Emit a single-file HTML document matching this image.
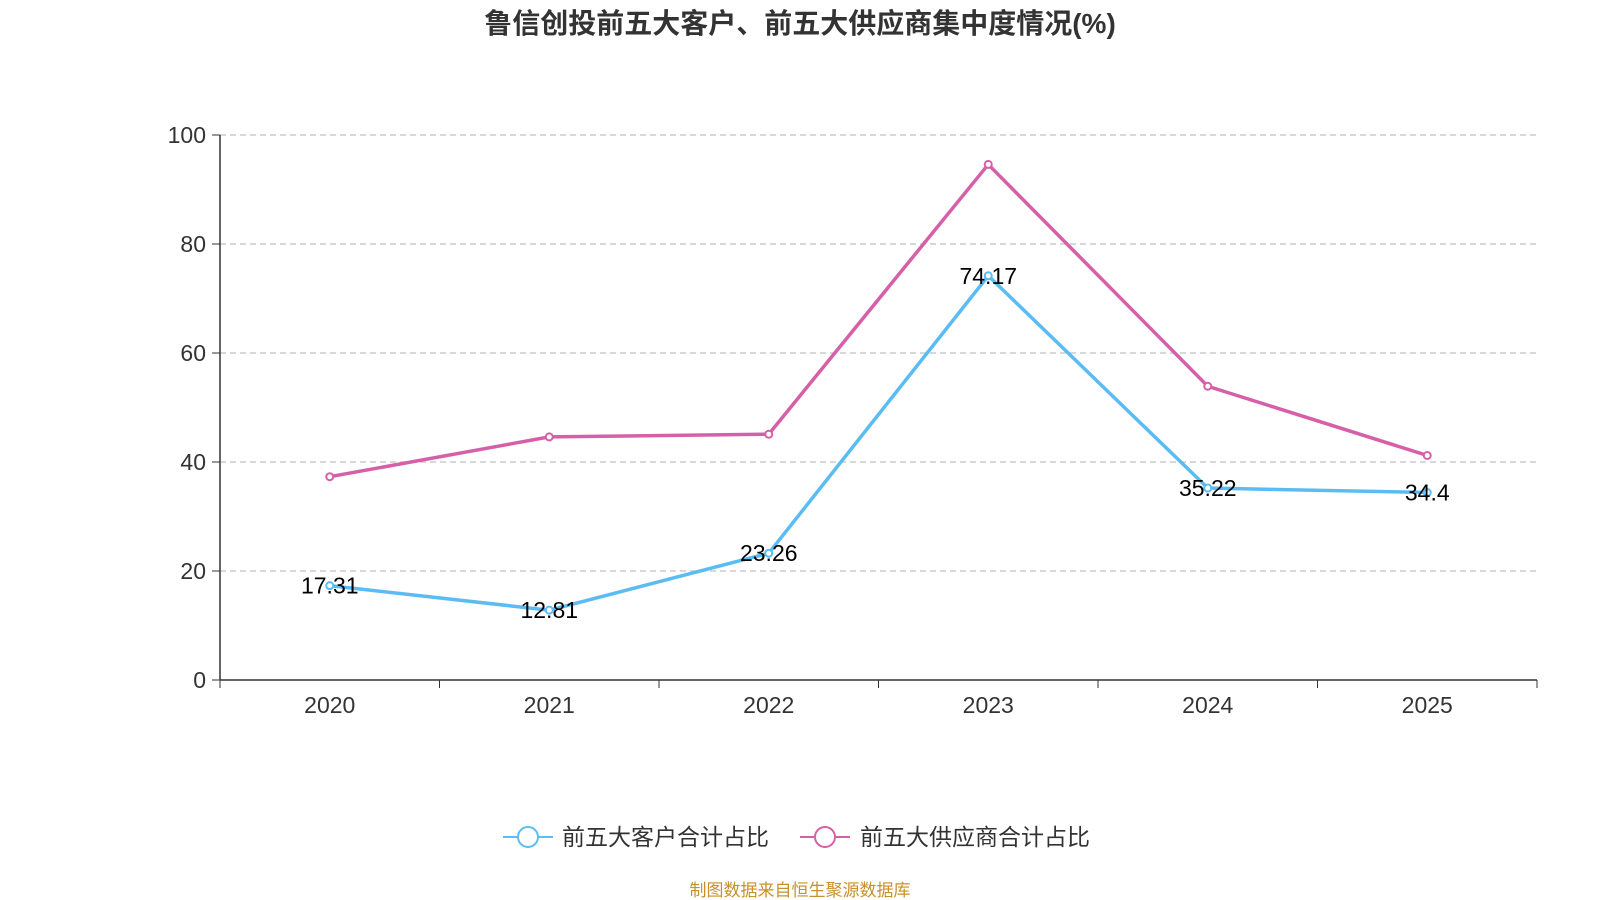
<!DOCTYPE html>
<html><head><meta charset="utf-8">
<style>
html,body{margin:0;padding:0;background:#fff;width:1600px;height:900px;overflow:hidden}
svg{display:block;font-family:"Liberation Sans","Noto Sans CJK SC",sans-serif}
</style></head>
<body>
<svg id="chart" width="1600" height="900">
<text x="800" y="33" text-anchor="middle" font-size="28" font-weight="bold" fill="#333">鲁信创投前五大客户、前五大供应商集中度情况(%)</text>
<g id="grid"></g><g id="axes"></g><g id="series"></g>
<g>
<g>
<line x1="503" y1="837" x2="553" y2="837" stroke="#5bbcf3" stroke-width="2"/>
<circle cx="528" cy="837" r="10" fill="#fff" stroke="#5bbcf3" stroke-width="2"/>
<text x="562" y="845" font-size="23" fill="#333">前五大客户合计占比</text></g>
<g>
<line x1="800" y1="837" x2="850" y2="837" stroke="#d660a8" stroke-width="2"/>
<circle cx="825" cy="837" r="10" fill="#fff" stroke="#d660a8" stroke-width="2"/>
<text x="860" y="845" font-size="23" fill="#333">前五大供应商合计占比</text></g>
</g>
<text x="800" y="896" text-anchor="middle" font-size="17" fill="#c8902a">制图数据来自恒生聚源数据库</text>
</svg>
<script>
const categories=["2020","2021","2022","2023","2024","2025"];
const customers=[17.31,12.81,23.26,74.17,35.22,34.4];
const suppliers=[37.3,44.6,45.1,94.6,53.9,41.2];
const yTicks=[0,20,40,60,80,100];
const NS="http://www.w3.org/2000/svg";
const L=220,R=1537,T=135,B=680;
const bw=(R-L)/categories.length;
const x=i=>L+bw*(i+0.5);
const y=v=>B-(v/100)*(B-T);
function mk(tag,attrs,parent){const e=document.createElementNS(NS,tag);for(const k in attrs)e.setAttribute(k,attrs[k]);parent.appendChild(e);return e;}
const grid=document.getElementById('grid'),axes=document.getElementById('axes'),ser=document.getElementById('series');
yTicks.forEach(t=>{
 if(t>0){const g=mk('line',{x1:L,x2:R,y1:y(t),y2:y(t),stroke:'#ccc','stroke-dasharray':'6,4','stroke-width':1.5},grid);
 
 }
 mk('line',{x1:L-8,x2:L,y1:y(t),y2:y(t),stroke:'#333'},axes);
 const tx=mk('text',{x:L-14,y:y(t)+8,'text-anchor':'end','font-size':23,fill:'#333'},axes);tx.textContent=t;
 
 
});
mk('line',{x1:L,x2:L,y1:T,y2:B,stroke:'#333','stroke-width':1.5},axes);
mk('line',{x1:L,x2:R,y1:B,y2:B,stroke:'#333','stroke-width':1.5},axes);
for(let i=0;i<=categories.length;i++)mk('line',{x1:L+bw*i,x2:L+bw*i,y1:B,y2:B+8,stroke:'#333'},axes);
categories.forEach((c,i)=>{const t=mk('text',{x:x(i),y:B+33,'text-anchor':'middle','font-size':23,fill:'#333'},axes);t.textContent=c;
 
 });
function line(vals,color,name,labels){
 const p=mk('polyline',{points:vals.map((v,i)=>x(i)+','+y(v)).join(' '),fill:'none',stroke:color,'stroke-width':3.5},ser);
 
 
 vals.forEach((v,i)=>{const c=mk('circle',{cx:x(i),cy:y(v),r:3.5,fill:'#fff',stroke:color,'stroke-width':2},ser);
  
  
  if(labels){const t=mk('text',{x:x(i),y:y(v)+8,'text-anchor':'middle','font-size':23,fill:'#000'},ser);t.textContent=v;
   
   }
 });
}
line(suppliers,'#d660a8','suppliers',false);
line(customers,'#5bbcf3','customers',true);
</script>
</body></html>
